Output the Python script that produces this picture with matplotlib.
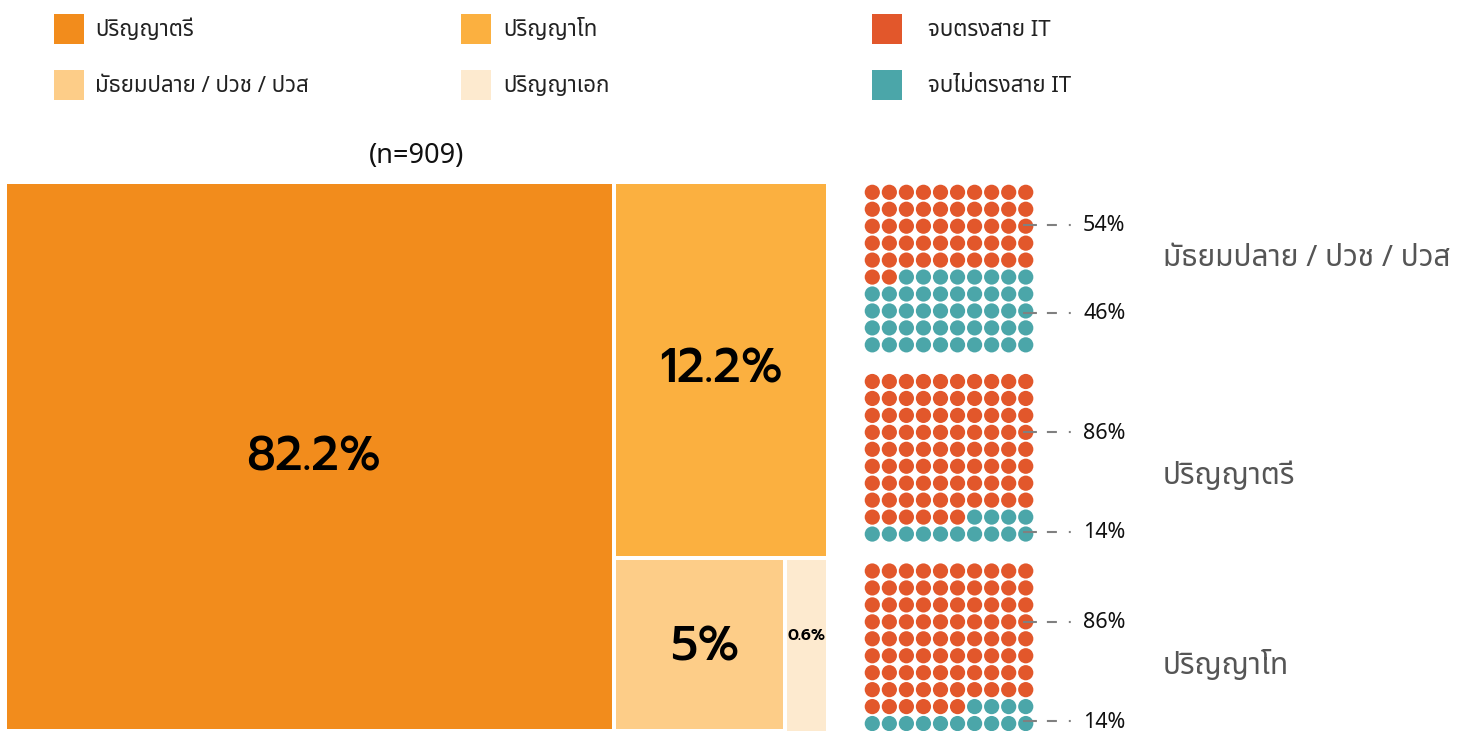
import matplotlib
matplotlib.use('Agg')
import matplotlib.pyplot as plt
from matplotlib import font_manager as fm
from matplotlib.patches import Rectangle, Ellipse

# ---------------- data ----------------
levels = ['ปริญญาตรี', 'ปริญญาโท', 'มัธยมปลาย / ปวช / ปวส', 'ปริญญาเอก']
level_share = [82.2, 12.2, 5.0, 0.6]
level_colors = ['#F28C1C', '#FBB040', '#FDCD88', '#FDEACF']
n_total = 909

it_labels = ['จบตรงสาย IT', 'จบไม่ตรงสาย IT']
it_colors = ['#E2572B', '#4BA6A9']

waffle_groups = ['มัธยมปลาย / ปวช / ปวส', 'ปริญญาตรี', 'ปริญญาโท']
it_match_pct = [54, 86, 86]
it_mismatch_pct = [46, 14, 14]
it_match_dots = [52, 86, 86]

# ---------------- fonts ----------------
names = {f.name for f in fm.fontManager.ttflist}
thai = 'Noto Sans Thai' if 'Noto Sans Thai' in names else 'DejaVu Sans'
num_font = next((f for f in ['Prompt', 'Kanit'] if f in names), 'DejaVu Sans')
TXT = ['Noto Sans', thai, 'DejaVu Sans']
THAI_TXT = [thai, 'Noto Sans', 'DejaVu Sans']
NUM = [num_font, 'DejaVu Sans']
plt.rcParams['font.family'] = TXT
plt.rcParams['lines.scale_dashes'] = False

W, H = 1466, 731
fig = plt.figure(figsize=(W / 100, H / 100), dpi=100)
ax = fig.add_axes([0, 0, 1, 1])
ax.set_xlim(0, W)
ax.set_ylim(H, 0)
ax.axis('off')

# ---------------- legend ----------------
leg_items = [(levels[0], level_colors[0]), (levels[2], level_colors[2]),
             (levels[1], level_colors[1]), (levels[3], level_colors[3]),
             (it_labels[0], it_colors[0]), (it_labels[1], it_colors[1])]
col_x = [54, 461, 872]
txt_dx = [41, 42, 56]
row_y = [29, 85]
for i, (lab, colr) in enumerate(leg_items):
    cx = col_x[i // 2]
    cy = row_y[i % 2]
    ax.add_patch(Rectangle((cx, cy - 15), 30, 30, color=colr, lw=0))
    ax.text(cx + txt_dx[i // 2], cy + 1, lab, fontsize=16, va='center', ha='left',
            color='#222222', family=THAI_TXT)

# ---------------- treemap ----------------
X0, X1, Y0, Y1 = 5, 828, 182, 731
gap = 2
big_frac = 0.740       # layout split (width share of first block)
bottom_left_frac = 0.80
rest = sum(level_share[1:])
xs = X0 + (X1 - X0) * big_frac
ys = Y0 + (Y1 - Y0) * level_share[1] / rest
xb = xs + (X1 - xs) * bottom_left_frac
cells = [(X0, Y0, xs, Y1), (xs, Y0, X1, ys), (xs, ys, xb, Y1), (xb, ys, X1, Y1 + 4)]
fsz = [34, 34, 34, 11.5]
wts = ['medium', 'medium', 'medium', 'semibold']
label_y = [458, 370, 648, 636]
label_dx = [4, 0, 5, 0]
for k, (a, b, c, d) in enumerate(cells):
    ax.add_patch(Rectangle((a + gap, b + gap), c - a - 2 * gap, d - b - 2 * gap,
                           color=level_colors[k], lw=0))
    cxm = (a + c) / 2 + label_dx[k]
    ax.text(cxm, label_y[k], f'{level_share[k]:g}%', fontsize=fsz[k],
            fontweight=wts[k], ha='center', va='center', color='black',
            family=NUM)

ax.text(417, 156, f'(n={n_total})', fontsize=19.5, ha='center',
        va='center', color='#111111')

# ---------------- waffles ----------------
dx, dy, dsz = 17.05, 16.95, 15.2
gx0 = 872.3
gy0 = [192.3, 381.5, 571.0]
lab_rows = [[1.9, 7.1], [3.0, 8.85], [3.0, 8.85]]
name_y = [258, 476, 666]
for g in range(3):
    for idx in range(100):
        r, c = divmod(idx, 10)
        colr = it_colors[0] if idx < it_match_dots[g] else it_colors[1]
        ax.add_patch(Ellipse((gx0 + c * dx, gy0[g] + r * dy), dsz, dsz,
                             color=colr, lw=0))
    for j, pct in enumerate([it_match_pct[g], it_mismatch_pct[g]]):
        yy = gy0[g] + lab_rows[g][j] * dy
        ax.plot([1023, 1073], [yy, yy], color='#808080', lw=1.5,
                dashes=(10, 7.2, 7.2, 8.6, 1.4, 20), zorder=3)
        ax.text(1083, yy + 1, f'{pct}%', fontsize=15.5, ha='left', va='center',
                color='#111111')
    ax.text(1163, name_y[g], waffle_groups[g], fontsize=21.5, ha='left',
            va='center', color='#555555', family=THAI_TXT)

fig.savefig('out.png', dpi=100)
